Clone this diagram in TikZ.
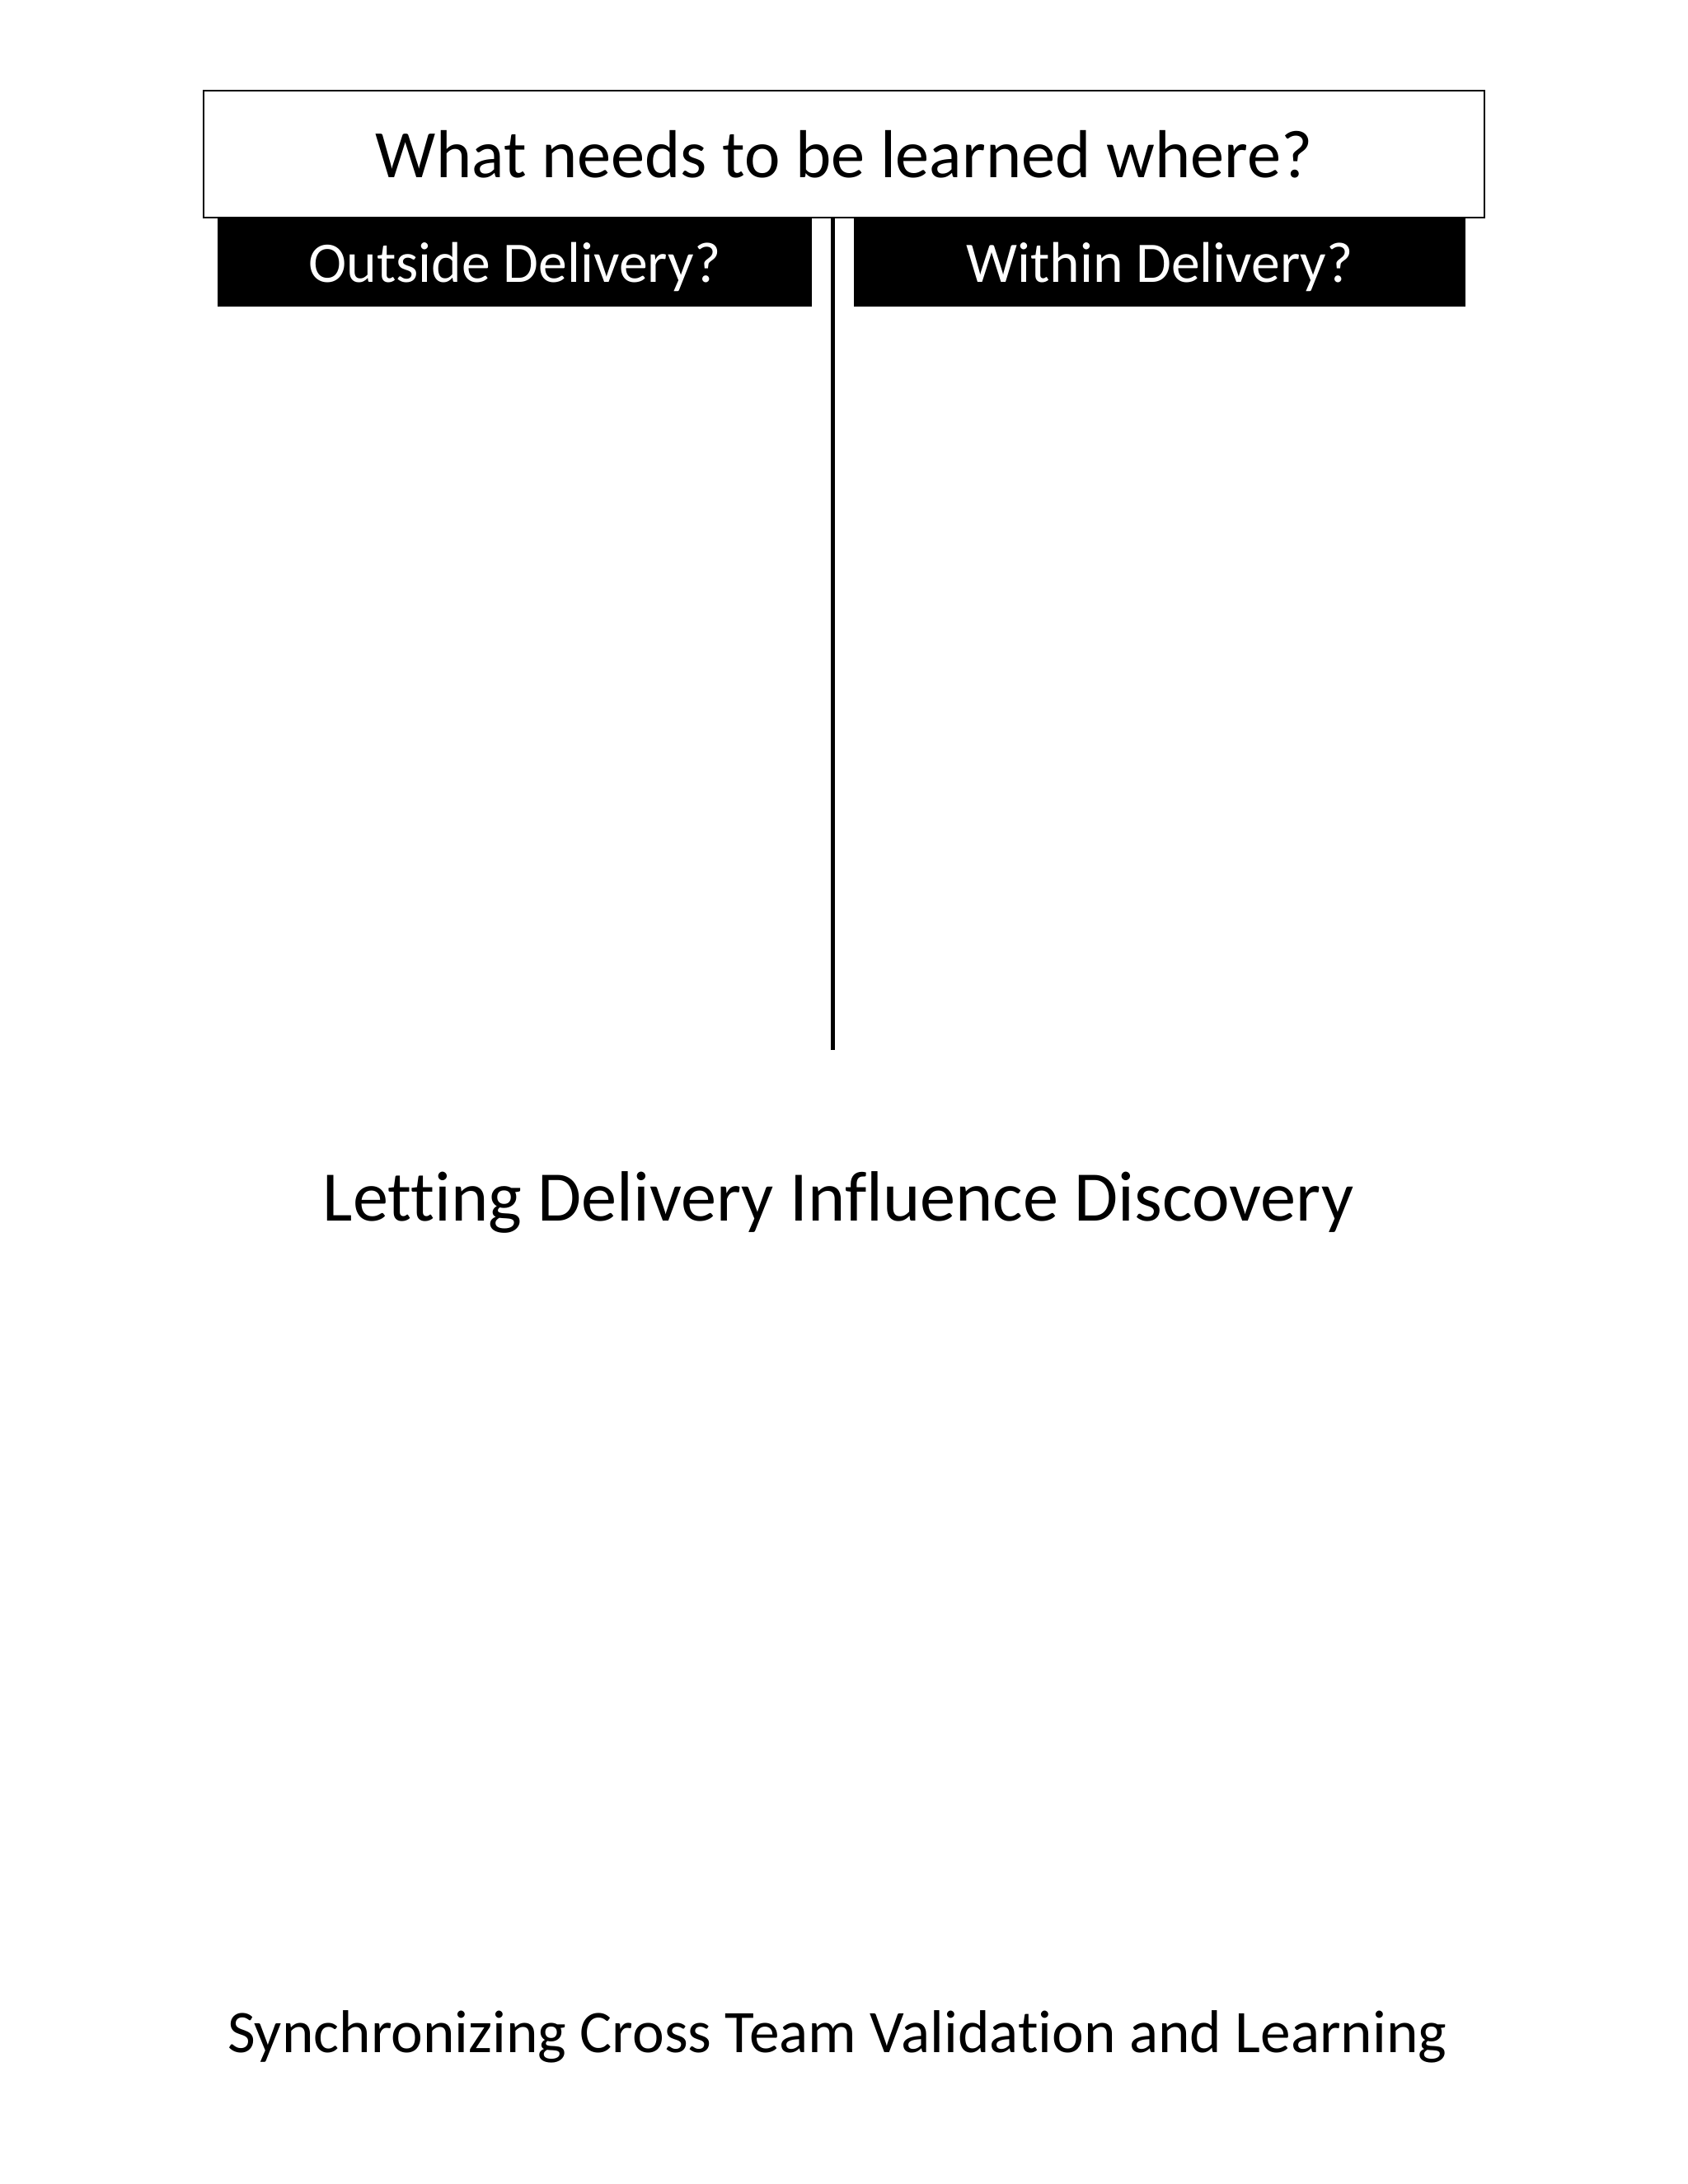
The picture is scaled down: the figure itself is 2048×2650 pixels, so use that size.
\documentclass[tikz,border=0pt]{standalone}
\usepackage{fontspec}
\setmainfont[Ligatures=NoCommon]{Carlito}
\begin{document}
\begin{tikzpicture}[x=0.3pt,y=-0.3pt,
  titlebox/.style={draw=black,line width=0.8pt,fill=white,inner sep=0pt,minimum width=466.2pt,minimum height=46.2pt,font=\fontsize{24.7}{30}\selectfont},
  tabbox/.style={fill=black,text=white,inner sep=0pt,text depth=0pt,minimum height=32.4pt,font=\fontsize{20.9}{25}\selectfont},
  caption/.style={inner sep=0pt,anchor=base}]
\useasboundingbox[fill=white] (0,0) rectangle (2048,2650);
\node[tabbox,minimum width=216.3pt] (outside) at (624.5,318) {Outside Delivery?};
\node[tabbox,minimum width=222.6pt] (within) at (1407,318) {Within Delivery?};
\node[titlebox] (title) at (1024,187) {What needs to be learned where?};
\coordinate (lineend) at (1010.5,1274);
\draw[line width=1.5pt] (title.south -| lineend) -- (lineend);
\node[caption,font=\fontsize{25.9}{31}\selectfont] (letting) at (1017,1481) {Letting Delivery Influence Discovery};
\node[caption,font=\fontsize{22}{27}\selectfont] (sync) at (1016,2490) {Synchronizing Cross Team Validation and Learning};
\end{tikzpicture}
\end{document}
